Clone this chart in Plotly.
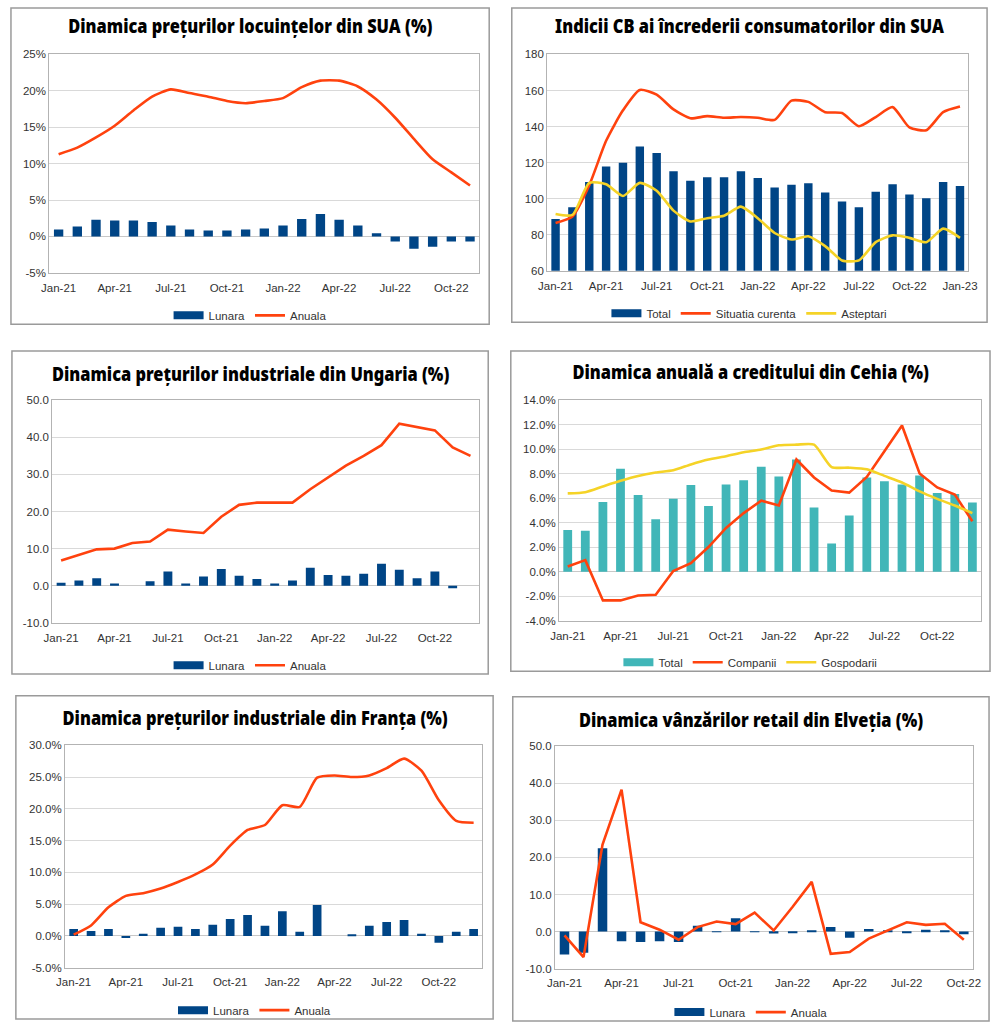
import plotly.graph_objects as go

# categorii (luni)
luni = ["Jan-21", "Feb-21", "Mar-21", "Apr-21", "May-21", "Jun-21",
        "Jul-21", "Aug-21", "Sep-21", "Oct-21", "Nov-21", "Dec-21",
        "Jan-22", "Feb-22", "Mar-22", "Apr-22", "May-22", "Jun-22",
        "Jul-22", "Aug-22", "Sep-22", "Oct-22", "Nov-22", "Dec-22", "Jan-23"]
etichete = ["Jan-21", "Apr-21", "Jul-21", "Oct-21", "Jan-22", "Apr-22", "Jul-22", "Oct-22"]
etichete_cb = etichete + ["Jan-23"]

# 1. preturile locuintelor SUA (Jan-21 .. Nov-22)
sua_lunara = [0.95, 1.35, 2.3, 2.2, 2.2, 2.0, 1.5, 0.95, 0.8, 0.8, 0.95, 1.1,
              1.5, 2.4, 3.1, 2.3, 1.5, 0.45, -0.7, -1.7, -1.4, -0.7, -0.7]
sua_anuala = [11.3, 12.2, 13.6, 15.2, 17.3, 19.2, 20.2, 19.7, 19.2, 18.6, 18.3, 18.6,
              19.0, 20.5, 21.4, 21.4, 20.6, 18.8, 16.3, 13.4, 10.6, 8.8, 7.0]

# 2. indicii CB (Jan-21 .. Jan-23)
cb_total = [88.7, 95.3, 109.3, 117.9, 119.9, 129.0, 125.4, 115.2, 109.9, 111.9, 111.9, 115.2,
            111.5, 106.2, 107.7, 108.6, 103.5, 98.4, 95.3, 103.8, 108.0, 102.4, 100.2, 109.3, 107.1]
cb_curenta = [86.5, 90.1, 107.5, 132.1, 149.0, 160.3, 157.7, 149.5, 144.6, 145.8, 144.9, 145.3,
              144.9, 143.7, 154.4, 153.7, 148.0, 147.5, 140.2, 145.3, 150.8, 139.5, 138.0, 148.0, 151.1]
cb_asteptari = [91.5, 91.0, 108.8, 108.0, 101.5, 108.8, 104.4, 93.4, 87.4, 89.2, 90.5, 95.6,
                89.2, 81.0, 77.4, 79.2, 73.7, 65.8, 65.8, 75.9, 79.7, 78.3, 75.9, 83.4, 78.3]

# 3. preturile industriale Ungaria (Jan-21 .. Dec-22)
hu_lunara = [0.8, 1.4, 2.0, 0.6, 0.0, 1.2, 3.8, 0.6, 2.5, 4.5, 2.7, 1.8,
             0.6, 1.4, 4.8, 2.9, 2.7, 3.2, 5.9, 4.3, 2.0, 3.8, -0.7, None]
hu_anuala = [6.8, 8.4, 9.8, 10.0, 11.5, 11.9, 15.1, 14.6, 14.2, 18.6, 21.8, 22.4,
             22.4, 22.4, 26.0, 29.1, 32.4, 35.0, 37.9, 43.7, 42.8, 41.9, 37.3, 35.0]

# 4. creditul Cehia (Jan-21 .. Dec-22)
cz_total = [3.42, 3.34, 5.7, 8.42, 6.27, 4.28, 5.97, 7.08, 5.38, 7.13, 7.48, 8.58,
            7.78, 9.17, 5.25, 2.31, 4.6, 7.7, 7.4, 7.13, 7.86, 6.43, 6.35, 5.65]
cz_companii = [0.43, 0.95, -2.34, -2.34, -1.94, -1.88, 0.06, 0.7, 2.02, 3.58, 4.79, 5.81,
               5.41, 9.17, 7.7, 6.64, 6.46, 7.75, 9.85, 11.95, 8.02, 6.89, 6.3, 4.12]
cz_gospodarii = [6.4, 6.5, 6.97, 7.43, 7.83, 8.1, 8.29, 8.77, 9.17, 9.44, 9.76, 9.98,
                 10.33, 10.38, 10.38, 8.55, 8.5, 8.37, 7.83, 7.29, 6.56, 5.95, 5.41, 4.79]

# 5. preturile industriale Franta (Jan-21 .. Dec-22)
fr_lunara = [1.07, 0.76, 1.07, -0.33, 0.34, 1.28, 1.43, 1.07, 1.74, 2.67, 3.3, 1.59,
             3.87, 0.65, 4.85, 0.0, 0.19, 1.59, 2.2, 2.5, 0.34, -1.1, 0.65, 1.07]
fr_anuala = [0.19, 1.64, 4.49, 6.3, 6.72, 7.44, 8.48, 9.67, 11.23, 14.2, 16.67, 17.45,
             20.56, 20.3, 24.9, 25.25, 25.0, 25.25, 26.4, 27.9, 26.0, 21.34, 18.1, 17.8]

# 6. vanzarile retail Elvetia (Jan-21 .. Oct-22)
ch_lunara = [-6.2, -5.7, 22.5, -2.6, -2.8, -2.6, -2.8, 1.55, -0.15, 3.6, -0.15, -0.5,
             -0.4, 0.15, 1.2, -1.7, 0.67, 0.1, -0.4, 0.5, 0.1, -0.75]
ch_anuala = [-1.0, -6.9, 23.5, 38.3, 2.5, 0.5, -2.2, 1.2, 2.7, 2.0, 5.1, 0.3,
             6.7, 13.4, -6.0, -5.5, -1.9, 0.2, 2.5, 1.8, 2.1, -2.2]

# valori pe axa y
y_sua = [-5, 0, 5, 10, 15, 20, 25]
y_cb = [60, 80, 100, 120, 140, 160, 180]
y_hu = [-10, 0, 10, 20, 30, 40, 50]
y_cz = [-4, -2, 0, 2, 4, 6, 8, 10, 12, 14]
y_fr = [-5, 0, 5, 10, 15, 20, 25, 30]
y_ch = [-10, 0, 10, 20, 30, 40, 50]

W, H = 1000, 1028
ALBASTRU = "#004586"
ROSU = "#ff420e"
GALBEN = "#f5d327"
TURCOAZ = "#41b6b8"
FONT = "Liberation Sans, Arial, sans-serif"
FONT_TITLU = "Noto Sans, DejaVu Sans, sans-serif"


def px(x):
    return x / W


def py(y):
    return 1 - y / H


fig = go.Figure()

panels = [
    dict(title="Dinamica prețurilor locuințelor din SUA (%)",
         box=(2, 2, 489, 322), plot=(41, 49, 479, 270), ty=20, ly=313,
         ticks=y_sua, fmt=lambda v: f"{v}%", n=23, xt=etichete),
    dict(title="Indicii CB ai încrederii consumatorilor din SUA",
         box=(512, 2, 996, 320), plot=(548, 49, 977, 268), ty=20, ly=311,
         ticks=y_cb, fmt=lambda v: f"{v}", n=25, xt=etichete_cb),
    dict(title="Dinamica prețurilor industriale din Ungaria (%)",
         box=(3, 349, 488, 676), plot=(44, 399, 479, 624), ty=372, ly=667,
         ticks=y_hu, fmt=lambda v: f"{v:.1f}", n=24, xt=etichete),
    dict(title="Dinamica anuală a creditului din Cehia (%)",
         box=(511, 349, 999, 673), plot=(560, 399, 990, 622), ty=370, ly=664,
         ticks=y_cz, fmt=lambda v: f"{v:.1f}%", n=24, xt=etichete),
    dict(title="Dinamica prețurilor industriale din Franța (%)",
         box=(7, 698, 493, 1025), plot=(57, 748, 482, 973), ty=720, ly=1016,
         ticks=y_fr, fmt=lambda v: f"{v:.1f}%", n=24, xt=etichete),
    dict(title="Dinamica vânzărilor retail din Elveția (%)",
         box=(513, 699, 998, 1027), plot=(556, 749, 982, 974), ty=722, ly=1018,
         ticks=y_ch, fmt=lambda v: f"{v:.1f}", n=22, xt=etichete),
]

series = [
    [("bar", "Lunara", sua_lunara, ALBASTRU, None), ("line", "Anuala", sua_anuala, ROSU, "spline")],
    [("bar", "Total", cb_total, ALBASTRU, None), ("line", "Situatia curenta", cb_curenta, ROSU, "spline"),
     ("line", "Asteptari", cb_asteptari, GALBEN, "spline")],
    [("bar", "Lunara", hu_lunara, ALBASTRU, None), ("line", "Anuala", hu_anuala, ROSU, "linear")],
    [("bar", "Total", cz_total, TURCOAZ, None), ("line", "Companii", cz_companii, ROSU, "linear"),
     ("line", "Gospodarii", cz_gospodarii, GALBEN, "spline")],
    [("bar", "Lunara", fr_lunara, ALBASTRU, None), ("line", "Anuala", fr_anuala, ROSU, "spline")],
    [("bar", "Lunara", ch_lunara, ALBASTRU, None), ("line", "Anuala", ch_anuala, ROSU, "linear")],
]

layout = {}
shapes = []
annotations = []

for i, (p, ser) in enumerate(zip(panels, series), start=1):
    sfx = "" if i == 1 else str(i)
    leg = "legend" if i == 1 else f"legend{i}"
    cats = luni[:p["n"]]
    for kind, name, vals, color, shape in ser:
        if kind == "bar":
            fig.add_trace(go.Bar(x=cats, y=vals, marker_color=color, marker_line_width=0,
                                 showlegend=False, xaxis="x" + sfx, yaxis="y" + sfx))
            # intrare de legenda ca dreptunghi lat
            fig.add_trace(go.Scatter(x=[None], y=[None], mode="lines", name=name,
                                     line=dict(color=color, width=8), legend=leg,
                                     xaxis="x" + sfx, yaxis="y" + sfx))
        else:
            fig.add_trace(go.Scatter(x=cats, y=vals, mode="lines", name=name,
                                     line=dict(color=color, width=2.6, shape=shape, smoothing=0.6),
                                     legend=leg, xaxis="x" + sfx, yaxis="y" + sfx))

    x0, y0, x1, y1 = p["plot"]
    layout["xaxis" + sfx] = dict(
        domain=[px(x0), px(x1)], anchor="y" + sfx, type="category",
        range=[-0.5, p["n"] - 0.5], tickvals=p["xt"], ticktext=p["xt"],
        showgrid=False, showline=True, mirror=True, linecolor="#b3b3b3", linewidth=1,
        ticks="", tickfont=dict(family=FONT, size=11.5, color="#333"), ticklabelstandoff=4,
    )
    t = p["ticks"]
    layout["yaxis" + sfx] = dict(
        domain=[py(y1), py(y0)], anchor="x" + sfx, range=[t[0], t[-1]],
        tickvals=t, ticktext=[p["fmt"](v) for v in t],
        showgrid=True, gridcolor="#d9d9d9", gridwidth=1,
        showline=True, mirror=True, linecolor="#b3b3b3", linewidth=1,
        zeroline=True, zerolinecolor="#c8c8c8", zerolinewidth=1,
        ticks="", tickfont=dict(family=FONT, size=11.5, color="#333"),
    )

    bx0, by0, bx1, by1 = p["box"]
    mid = px((bx0 + bx1) / 2)
    shapes.append(dict(type="rect", xref="paper", yref="paper",
                       x0=px(bx0), x1=px(bx1), y0=py(by1), y1=py(by0),
                       line=dict(color="#9a9a9a", width=1.5), layer="below"))
    annotations.append(dict(text=p["title"], xref="paper", yref="paper",
                            x=mid, y=py(p["ty"]), xanchor="center", yanchor="middle",
                            showarrow=False,
                            font=dict(family=FONT_TITLU, size=20, weight=900, color="#000")))
    layout[leg] = dict(orientation="h", xref="paper", yref="paper",
                       x=mid, y=py(p["ly"]), xanchor="center", yanchor="middle",
                       bgcolor="rgba(0,0,0,0)", font=dict(family=FONT, size=11.5, color="#333"),
                       itemwidth=30, tracegroupgap=0)

fig.update_layout(**layout)
fig.update_layout(width=W, height=H, margin=dict(l=0, r=0, t=0, b=0),
                  paper_bgcolor="white", plot_bgcolor="white",
                  bargap=0.5, shapes=shapes, annotations=annotations)

# titlurile sunt comprimate pe orizontala (aspect de font condensed)
js = """
document.body.style.margin = '0';
function ingusteaza() {
    document.querySelectorAll('.annotation-text').forEach(function (e) {
        if (e.getAttribute('data-ingust')) { return; }
        var cx = parseFloat(e.getAttribute('x')) || 0;
        var tr = e.getAttribute('transform') || '';
        e.setAttribute('transform', tr + ' translate(' + cx + ',0) scale(0.82,1) translate(' + (-cx) + ',0)');
        e.setAttribute('data-ingust', '1');
    });
}
ingusteaza();
var gd = document.getElementById('{plot_id}');
if (gd && gd.on) { gd.on('plotly_afterplot', ingusteaza); }
"""
fig.write_html("out.html", config={"displayModeBar": False}, post_script=js)
